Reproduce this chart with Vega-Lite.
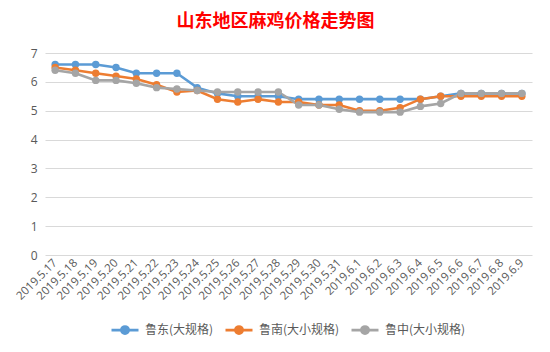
{
  "$schema": "https://vega.github.io/schema/vega-lite/v6.json",
  "width": 487,
  "height": 202,
  "autosize": {"type": "none"},
  "padding": {"left": 45, "top": 53, "right": 18, "bottom": 97},
  "background": "white",
  "title": {
    "text": "山东地区麻鸡价格走势图",
    "font": "Noto Sans CJK SC",
    "fontSize": 18,
    "fontWeight": "bold",
    "color": "#FF0000",
    "anchor": "middle",
    "dx": -13,
    "offset": 16
  },
  "datasets": {
    "prices": [
      {"date": "2019.5.17", "series": "鲁东(大规格)", "price": 6.6},
      {"date": "2019.5.18", "series": "鲁东(大规格)", "price": 6.6},
      {"date": "2019.5.19", "series": "鲁东(大规格)", "price": 6.6},
      {"date": "2019.5.20", "series": "鲁东(大规格)", "price": 6.5},
      {"date": "2019.5.21", "series": "鲁东(大规格)", "price": 6.3},
      {"date": "2019.5.22", "series": "鲁东(大规格)", "price": 6.3},
      {"date": "2019.5.23", "series": "鲁东(大规格)", "price": 6.3},
      {"date": "2019.5.24", "series": "鲁东(大规格)", "price": 5.8},
      {"date": "2019.5.25", "series": "鲁东(大规格)", "price": 5.6},
      {"date": "2019.5.26", "series": "鲁东(大规格)", "price": 5.5},
      {"date": "2019.5.27", "series": "鲁东(大规格)", "price": 5.5},
      {"date": "2019.5.28", "series": "鲁东(大规格)", "price": 5.5},
      {"date": "2019.5.29", "series": "鲁东(大规格)", "price": 5.4},
      {"date": "2019.5.30", "series": "鲁东(大规格)", "price": 5.4},
      {"date": "2019.5.31", "series": "鲁东(大规格)", "price": 5.4},
      {"date": "2019.6.1", "series": "鲁东(大规格)", "price": 5.4},
      {"date": "2019.6.2", "series": "鲁东(大规格)", "price": 5.4},
      {"date": "2019.6.3", "series": "鲁东(大规格)", "price": 5.4},
      {"date": "2019.6.4", "series": "鲁东(大规格)", "price": 5.4},
      {"date": "2019.6.5", "series": "鲁东(大规格)", "price": 5.5},
      {"date": "2019.6.6", "series": "鲁东(大规格)", "price": 5.6},
      {"date": "2019.6.7", "series": "鲁东(大规格)", "price": 5.6},
      {"date": "2019.6.8", "series": "鲁东(大规格)", "price": 5.6},
      {"date": "2019.6.9", "series": "鲁东(大规格)", "price": 5.6},
      {"date": "2019.5.17", "series": "鲁南(大小规格)", "price": 6.5},
      {"date": "2019.5.18", "series": "鲁南(大小规格)", "price": 6.4},
      {"date": "2019.5.19", "series": "鲁南(大小规格)", "price": 6.3},
      {"date": "2019.5.20", "series": "鲁南(大小规格)", "price": 6.2},
      {"date": "2019.5.21", "series": "鲁南(大小规格)", "price": 6.1},
      {"date": "2019.5.22", "series": "鲁南(大小规格)", "price": 5.9},
      {"date": "2019.5.23", "series": "鲁南(大小规格)", "price": 5.65},
      {"date": "2019.5.24", "series": "鲁南(大小规格)", "price": 5.7},
      {"date": "2019.5.25", "series": "鲁南(大小规格)", "price": 5.4},
      {"date": "2019.5.26", "series": "鲁南(大小规格)", "price": 5.3},
      {"date": "2019.5.27", "series": "鲁南(大小规格)", "price": 5.4},
      {"date": "2019.5.28", "series": "鲁南(大小规格)", "price": 5.3},
      {"date": "2019.5.29", "series": "鲁南(大小规格)", "price": 5.3},
      {"date": "2019.5.30", "series": "鲁南(大小规格)", "price": 5.2},
      {"date": "2019.5.31", "series": "鲁南(大小规格)", "price": 5.2},
      {"date": "2019.6.1", "series": "鲁南(大小规格)", "price": 5.0},
      {"date": "2019.6.2", "series": "鲁南(大小规格)", "price": 5.0},
      {"date": "2019.6.3", "series": "鲁南(大小规格)", "price": 5.1},
      {"date": "2019.6.4", "series": "鲁南(大小规格)", "price": 5.4},
      {"date": "2019.6.5", "series": "鲁南(大小规格)", "price": 5.5},
      {"date": "2019.6.6", "series": "鲁南(大小规格)", "price": 5.5},
      {"date": "2019.6.7", "series": "鲁南(大小规格)", "price": 5.5},
      {"date": "2019.6.8", "series": "鲁南(大小规格)", "price": 5.5},
      {"date": "2019.6.9", "series": "鲁南(大小规格)", "price": 5.5},
      {"date": "2019.5.17", "series": "鲁中(大小规格)", "price": 6.4},
      {"date": "2019.5.18", "series": "鲁中(大小规格)", "price": 6.3},
      {"date": "2019.5.19", "series": "鲁中(大小规格)", "price": 6.05},
      {"date": "2019.5.20", "series": "鲁中(大小规格)", "price": 6.05},
      {"date": "2019.5.21", "series": "鲁中(大小规格)", "price": 5.95},
      {"date": "2019.5.22", "series": "鲁中(大小规格)", "price": 5.8},
      {"date": "2019.5.23", "series": "鲁中(大小规格)", "price": 5.75},
      {"date": "2019.5.24", "series": "鲁中(大小规格)", "price": 5.7},
      {"date": "2019.5.25", "series": "鲁中(大小规格)", "price": 5.65},
      {"date": "2019.5.26", "series": "鲁中(大小规格)", "price": 5.65},
      {"date": "2019.5.27", "series": "鲁中(大小规格)", "price": 5.65},
      {"date": "2019.5.28", "series": "鲁中(大小规格)", "price": 5.65},
      {"date": "2019.5.29", "series": "鲁中(大小规格)", "price": 5.2},
      {"date": "2019.5.30", "series": "鲁中(大小规格)", "price": 5.2},
      {"date": "2019.5.31", "series": "鲁中(大小规格)", "price": 5.05},
      {"date": "2019.6.1", "series": "鲁中(大小规格)", "price": 4.95},
      {"date": "2019.6.2", "series": "鲁中(大小规格)", "price": 4.95},
      {"date": "2019.6.3", "series": "鲁中(大小规格)", "price": 4.95},
      {"date": "2019.6.4", "series": "鲁中(大小规格)", "price": 5.15},
      {"date": "2019.6.5", "series": "鲁中(大小规格)", "price": 5.25},
      {"date": "2019.6.6", "series": "鲁中(大小规格)", "price": 5.6},
      {"date": "2019.6.7", "series": "鲁中(大小规格)", "price": 5.6},
      {"date": "2019.6.8", "series": "鲁中(大小规格)", "price": 5.6},
      {"date": "2019.6.9", "series": "鲁中(大小规格)", "price": 5.6}
    ]
  },
  "data": {"name": "prices"},
  "mark": {
    "type": "line",
    "strokeWidth": 2.6,
    "point": {"filled": true, "size": 55, "opacity": 1}
  },
  "encoding": {
    "x": {
      "field": "date",
      "type": "ordinal",
      "sort": null,
      "scale": {"type": "point", "padding": 0.5},
      "axis": {
        "title": null,
        "labelAngle": -45,
        "labelAlign": "right",
        "labelBaseline": "middle",
        "labelFont": "Open Sans",
        "labelFontSize": 11.5,
        "labelColor": "#595959",
        "labelPadding": 6,
        "ticks": false,
        "domain": false,
        "grid": false
      }
    },
    "y": {
      "field": "price",
      "type": "quantitative",
      "scale": {"domain": [0, 7], "nice": false, "zero": true},
      "axis": {
        "title": null,
        "values": [0, 1, 2, 3, 4, 5, 6, 7],
        "format": "d",
        "labelFont": "Open Sans",
        "labelFontSize": 12,
        "labelColor": "#595959",
        "labelPadding": 8,
        "ticks": false,
        "domain": false,
        "grid": true,
        "gridColor": "#D9D9D9",
        "gridWidth": 1
      }
    },
    "color": {
      "field": "series",
      "type": "nominal",
      "scale": {
        "domain": ["鲁东(大规格)", "鲁南(大小规格)", "鲁中(大小规格)"],
        "range": ["#5B9BD5", "#ED7D31", "#A5A5A5"]
      },
      "legend": {
        "title": null,
        "orient": "none",
        "direction": "horizontal",
        "legendX": 65,
        "legendY": 262,
        "symbolType": "M-1,0L1,0M-0.27,0A0.27,0.27 0 1,0 0.27,0A0.27,0.27 0 1,0 -0.27,0Z",
        "symbolSize": 729,
        "symbolStrokeWidth": 2.6,
        "labelFont": "Noto Sans CJK SC",
        "labelFontSize": 12,
        "labelColor": "#595959",
        "labelOffset": 5,
        "columnPadding": 6,
        "encode": {
          "symbols": {
            "update": {
              "fill": {"scale": "color", "field": "value"},
              "stroke": {"scale": "color", "field": "value"},
              "opacity": {"value": 1}
            }
          }
        }
      }
    }
  },
  "config": {
    "view": {"stroke": null}
  }
}
